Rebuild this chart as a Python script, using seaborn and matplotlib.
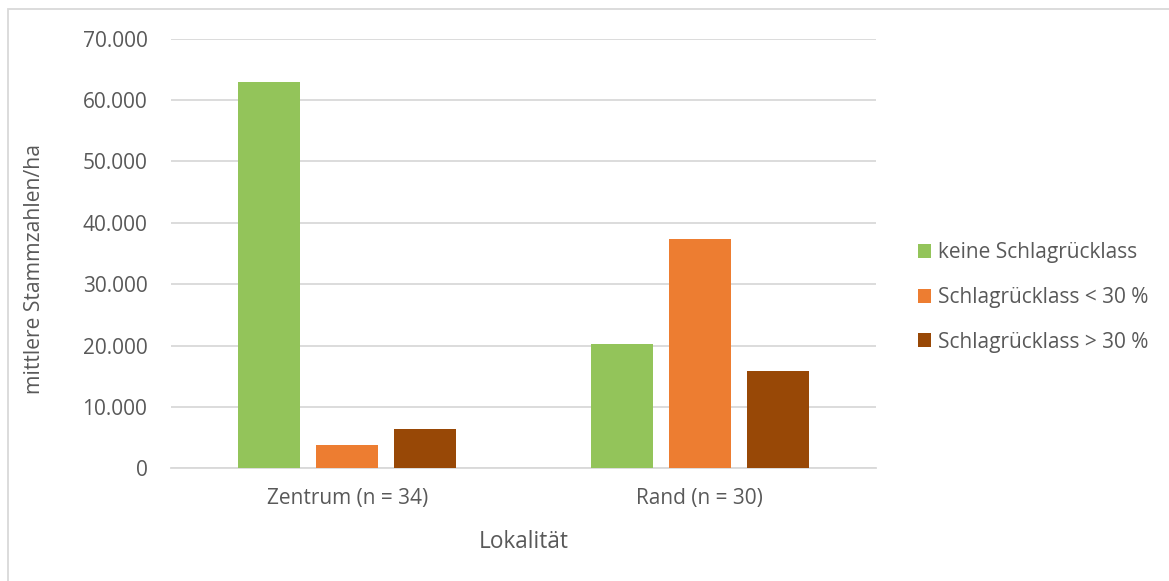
import matplotlib
matplotlib.use("Agg")
import matplotlib.pyplot as plt
import matplotlib.ticker as mticker
from matplotlib.patches import Rectangle
import pandas as pd
import seaborn as sns

# Mean stem counts per hectare by locality and slash-retention class
localities = ["Zentrum (n = 34)", "Rand (n = 30)"]
classes = ["keine Schlagrücklass", "Schlagrücklass < 30 %", "Schlagrücklass > 30 %"]
keine = [62950, 20250]
unter30 = [3800, 37400]
ueber30 = [6400, 15900]
colors = ["#93C45A", "#ED7D31", "#984806"]
y_ticks = [0, 10000, 20000, 30000, 40000, 50000, 60000, 70000]

rows = []
for i, loc in enumerate(localities):
    for cls, vals in zip(classes, [keine, unter30, ueber30]):
        rows.append({"Lokalität": loc, "Klasse": cls, "Wert": vals[i]})
df = pd.DataFrame(rows)

sns.set_theme(style="white")
plt.rcParams["font.family"] = ["Open Sans", "DejaVu Sans"]
text_col = "#595959"
grid_col = "#D9D9D9"

W, H = 1169, 581
fig = plt.figure(figsize=(W / 100, H / 100), dpi=100)
ax_l, ax_r, ax_b, ax_t = 171, 876, 468.3, 38.7
ax = fig.add_axes([ax_l / W, 1 - ax_b / H, (ax_r - ax_l) / W, (ax_b - ax_t) / H])

sns.barplot(data=df, x="Lokalität", y="Wert", hue="Klasse", order=localities,
            hue_order=classes, palette=colors, width=0.664, gap=0.205,
            linewidth=0, saturation=1, errorbar=None, ax=ax, zorder=3)

ax.set_ylim(0, 70000)
ax.set_yticks(y_ticks)
ax.yaxis.set_major_formatter(mticker.FuncFormatter(lambda v, p: f"{int(v):,}".replace(",", ".")))
ax.grid(axis="y", color=grid_col, linewidth=1.3, zorder=0)
ax.grid(axis="x", visible=False)
ax.set_axisbelow(True)
for side in ["left", "right", "top"]:
    ax.spines[side].set_visible(False)
ax.spines["bottom"].set_color(grid_col)
ax.spines["bottom"].set_linewidth(1.3)
ax.tick_params(axis="both", length=0, labelsize=15, labelcolor=text_col)
ax.tick_params(axis="y", pad=17)
ax.tick_params(axis="x", pad=14)

ax.set_xlabel("Lokalität", fontsize=16.3, color=text_col)
ax.xaxis.set_label_coords(0.5, (ax_b - 541.7) / (ax_b - ax_t), transform=ax.transAxes)
ax.xaxis.label.set_va("center")
ax.set_ylabel("mittlere Stammzahlen/ha", fontsize=15.2, color=text_col)
ax.yaxis.set_label_coords((35 - ax_l) / (ax_r - ax_l), (ax_b - 269) / (ax_b - ax_t))
ax.yaxis.label.set_va("center")

handles, labels = ax.get_legend_handles_labels()
ax.legend(handles, labels, loc="center left", bbox_to_anchor=(918 / W, 1 - 297.5 / H),
          bbox_transform=fig.transFigure, frameon=False, fontsize=15,
          handlelength=0.64, handleheight=0.64, handletextpad=0.3,
          labelspacing=1.13, labelcolor=text_col, borderaxespad=0, borderpad=0)

# Light chart-area frame
fig.patches.append(Rectangle((7.5 / W, -0.05), 1.2, 1 - 9 / H + 0.05,
                             transform=fig.transFigure, fill=False,
                             edgecolor=grid_col, linewidth=1.3))

fig.savefig("out.png", dpi=100, facecolor="white")
